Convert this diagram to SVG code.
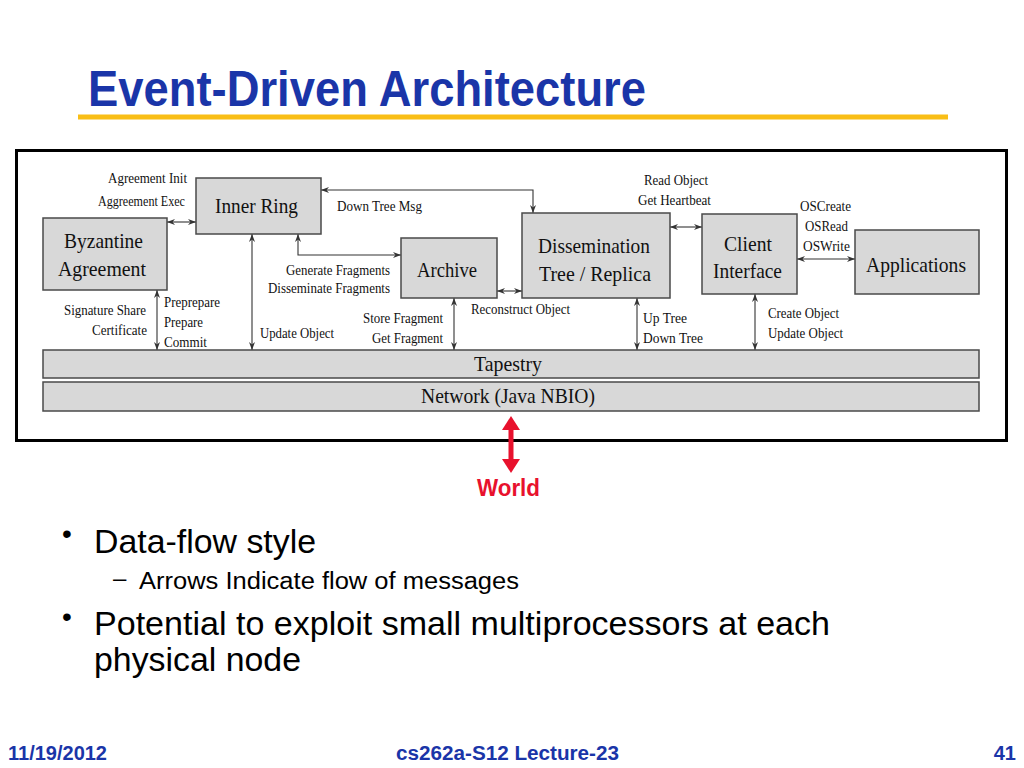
<svg xmlns="http://www.w3.org/2000/svg" width="1024" height="768" viewBox="0 0 1024 768">
<style>
.node{fill:#d8d8d8;stroke:#4a4a4a;stroke-width:1.5}
.nl{font-family:"Liberation Serif","Times New Roman",serif;font-size:22px;fill:#111}
.sl{font-family:"Liberation Serif","Times New Roman",serif;font-size:14px;fill:#111}
.con{fill:none;stroke:#333;stroke-width:1.1;marker-start:url(#ah);marker-end:url(#ah)}
.sans{font-family:"Liberation Sans",Arial,sans-serif}
.blue{fill:#1a35a8}
</style>
<defs>
<marker id="ah" viewBox="0 0 8 6" refX="8" refY="3" markerWidth="8" markerHeight="6" markerUnits="userSpaceOnUse" orient="auto-start-reverse">
<path d="M0,0 L8,3 L0,6 L2.5,3 z" fill="#333"/>
</marker>
<marker id="rh" viewBox="0 0 14 18" refX="0" refY="9" markerWidth="14" markerHeight="18" markerUnits="userSpaceOnUse" orient="auto-start-reverse">
<path d="M0,0 L14,9 L0,18 z" fill="#e8112d"/>
</marker>
</defs>
<rect width="1024" height="768" fill="#fff"/>
<g id="title">
<text x="88" y="106" class="sans blue" font-size="50" font-weight="bold" textLength="558" lengthAdjust="spacingAndGlyphs">Event-Driven Architecture</text>
<rect x="78" y="114.5" width="870" height="5" fill="#f9be16"/>
</g>
<rect id="frame" x="16.5" y="150.5" width="990" height="290" fill="#fff" stroke="#000" stroke-width="3"/>
<g id="connectors">
<path class="con" d="M167,222 H196"/>
<path class="con" d="M157,290 V350"/>
<path class="con" d="M252,234 V350"/>
<path class="con" d="M321,190 H533 V213"/>
<path class="con" d="M298,234 V255 H401"/>
<path class="con" d="M497,291 H522"/>
<path class="con" d="M454,298 V350"/>
<path class="con" d="M637,298 V350"/>
<path class="con" d="M670,227 H702"/>
<path class="con" d="M797,259 H855"/>
<path class="con" d="M755,294 V350"/>
<line x1="511" y1="430" x2="511" y2="459" stroke="#e8112d" stroke-width="5" marker-start="url(#rh)" marker-end="url(#rh)"/>
</g>
<g id="byzantine">
<rect class="node" x="43" y="218" width="124" height="72"/>
<text class="nl" x="64" y="248" textLength="79" lengthAdjust="spacingAndGlyphs">Byzantine</text>
<text class="nl" x="58" y="276" textLength="88" lengthAdjust="spacingAndGlyphs">Agreement</text>
</g>
<g id="innerring">
<rect class="node" x="196" y="178" width="125" height="56"/>
<text class="nl" x="215" y="213" textLength="83" lengthAdjust="spacingAndGlyphs">Inner Ring</text>
</g>
<g id="archive">
<rect class="node" x="401" y="238" width="96" height="60"/>
<text class="nl" x="417" y="277" textLength="60" lengthAdjust="spacingAndGlyphs">Archive</text>
</g>
<g id="dissemination">
<rect class="node" x="522" y="213" width="148" height="85"/>
<text class="nl" x="538" y="253" textLength="112" lengthAdjust="spacingAndGlyphs">Dissemination</text>
<text class="nl" x="539" y="281" textLength="112" lengthAdjust="spacingAndGlyphs">Tree / Replica</text>
</g>
<g id="client">
<rect class="node" x="702" y="214" width="95" height="80"/>
<text class="nl" x="724" y="251" textLength="48" lengthAdjust="spacingAndGlyphs">Client</text>
<text class="nl" x="713" y="278" textLength="69" lengthAdjust="spacingAndGlyphs">Interface</text>
</g>
<g id="applications">
<rect class="node" x="855" y="230" width="124" height="64"/>
<text class="nl" x="866" y="272" textLength="100" lengthAdjust="spacingAndGlyphs">Applications</text>
</g>
<g id="tapestry">
<rect class="node" x="43" y="350" width="936" height="28"/>
<text class="nl" x="474" y="371" textLength="68" lengthAdjust="spacingAndGlyphs">Tapestry</text>
</g>
<g id="network">
<rect class="node" x="43" y="382" width="936" height="29"/>
<text class="nl" x="421" y="403" textLength="174" lengthAdjust="spacingAndGlyphs">Network (Java NBIO)</text>
</g>
<g id="labels">
<text class="sl" x="108" y="183" textLength="79" lengthAdjust="spacingAndGlyphs">Agreement Init</text>
<text class="sl" x="98" y="206" textLength="87" lengthAdjust="spacingAndGlyphs">Aggreement Exec</text>
<text class="sl" x="337" y="211" textLength="85" lengthAdjust="spacingAndGlyphs">Down Tree Msg</text>
<text class="sl" x="286" y="275" textLength="104" lengthAdjust="spacingAndGlyphs">Generate Fragments</text>
<text class="sl" x="268" y="293" textLength="122" lengthAdjust="spacingAndGlyphs">Disseminate Fragments</text>
<text class="sl" x="644" y="185" textLength="64" lengthAdjust="spacingAndGlyphs">Read Object</text>
<text class="sl" x="638" y="205" textLength="73" lengthAdjust="spacingAndGlyphs">Get Heartbeat</text>
<text class="sl" x="800" y="211" textLength="51" lengthAdjust="spacingAndGlyphs">OSCreate</text>
<text class="sl" x="805" y="231" textLength="43" lengthAdjust="spacingAndGlyphs">OSRead</text>
<text class="sl" x="803" y="251" textLength="47" lengthAdjust="spacingAndGlyphs">OSWrite</text>
<text class="sl" x="64" y="315" textLength="82" lengthAdjust="spacingAndGlyphs">Signature Share</text>
<text class="sl" x="92" y="335" textLength="55" lengthAdjust="spacingAndGlyphs">Certificate</text>
<text class="sl" x="164" y="307" textLength="56" lengthAdjust="spacingAndGlyphs">Preprepare</text>
<text class="sl" x="164" y="327" textLength="39" lengthAdjust="spacingAndGlyphs">Prepare</text>
<text class="sl" x="164" y="347" textLength="43" lengthAdjust="spacingAndGlyphs">Commit</text>
<text class="sl" x="260" y="338" textLength="74" lengthAdjust="spacingAndGlyphs">Update Object</text>
<text class="sl" x="363" y="323" textLength="80" lengthAdjust="spacingAndGlyphs">Store Fragment</text>
<text class="sl" x="372" y="343" textLength="71" lengthAdjust="spacingAndGlyphs">Get Fragment</text>
<text class="sl" x="471" y="314" textLength="99" lengthAdjust="spacingAndGlyphs">Reconstruct Object</text>
<text class="sl" x="643" y="323" textLength="44" lengthAdjust="spacingAndGlyphs">Up Tree</text>
<text class="sl" x="643" y="343" textLength="60" lengthAdjust="spacingAndGlyphs">Down Tree</text>
<text class="sl" x="768" y="318" textLength="71" lengthAdjust="spacingAndGlyphs">Create Object</text>
<text class="sl" x="768" y="338" textLength="75" lengthAdjust="spacingAndGlyphs">Update Object</text>
</g>
<text id="world" x="477" y="496" class="sans" font-size="24" font-weight="bold" fill="#e8112d" textLength="63" lengthAdjust="spacingAndGlyphs">World</text>
<g id="bullets" class="sans" fill="#000">
<text x="62" y="543" font-size="28">•</text>
<text x="94" y="553" font-size="34" textLength="222" lengthAdjust="spacingAndGlyphs">Data-flow style</text>
<text x="113" y="586" font-size="24">–</text>
<text x="139" y="589" font-size="23" textLength="380" lengthAdjust="spacingAndGlyphs">Arrows Indicate flow of messages</text>
<text x="62" y="626" font-size="28">•</text>
<text x="94" y="635" font-size="34" textLength="736" lengthAdjust="spacingAndGlyphs">Potential to exploit small multiprocessors at each</text>
<text x="94" y="671" font-size="34" textLength="207" lengthAdjust="spacingAndGlyphs">physical node</text>
</g>
<g id="footer" class="sans blue" font-size="20" font-weight="bold">
<text x="8" y="760" textLength="99" lengthAdjust="spacingAndGlyphs">11/19/2012</text>
<text x="396" y="760" textLength="223" lengthAdjust="spacingAndGlyphs">cs262a-S12 Lecture-23</text>
<text x="1016" y="760" text-anchor="end">41</text>
</g>
</svg>
